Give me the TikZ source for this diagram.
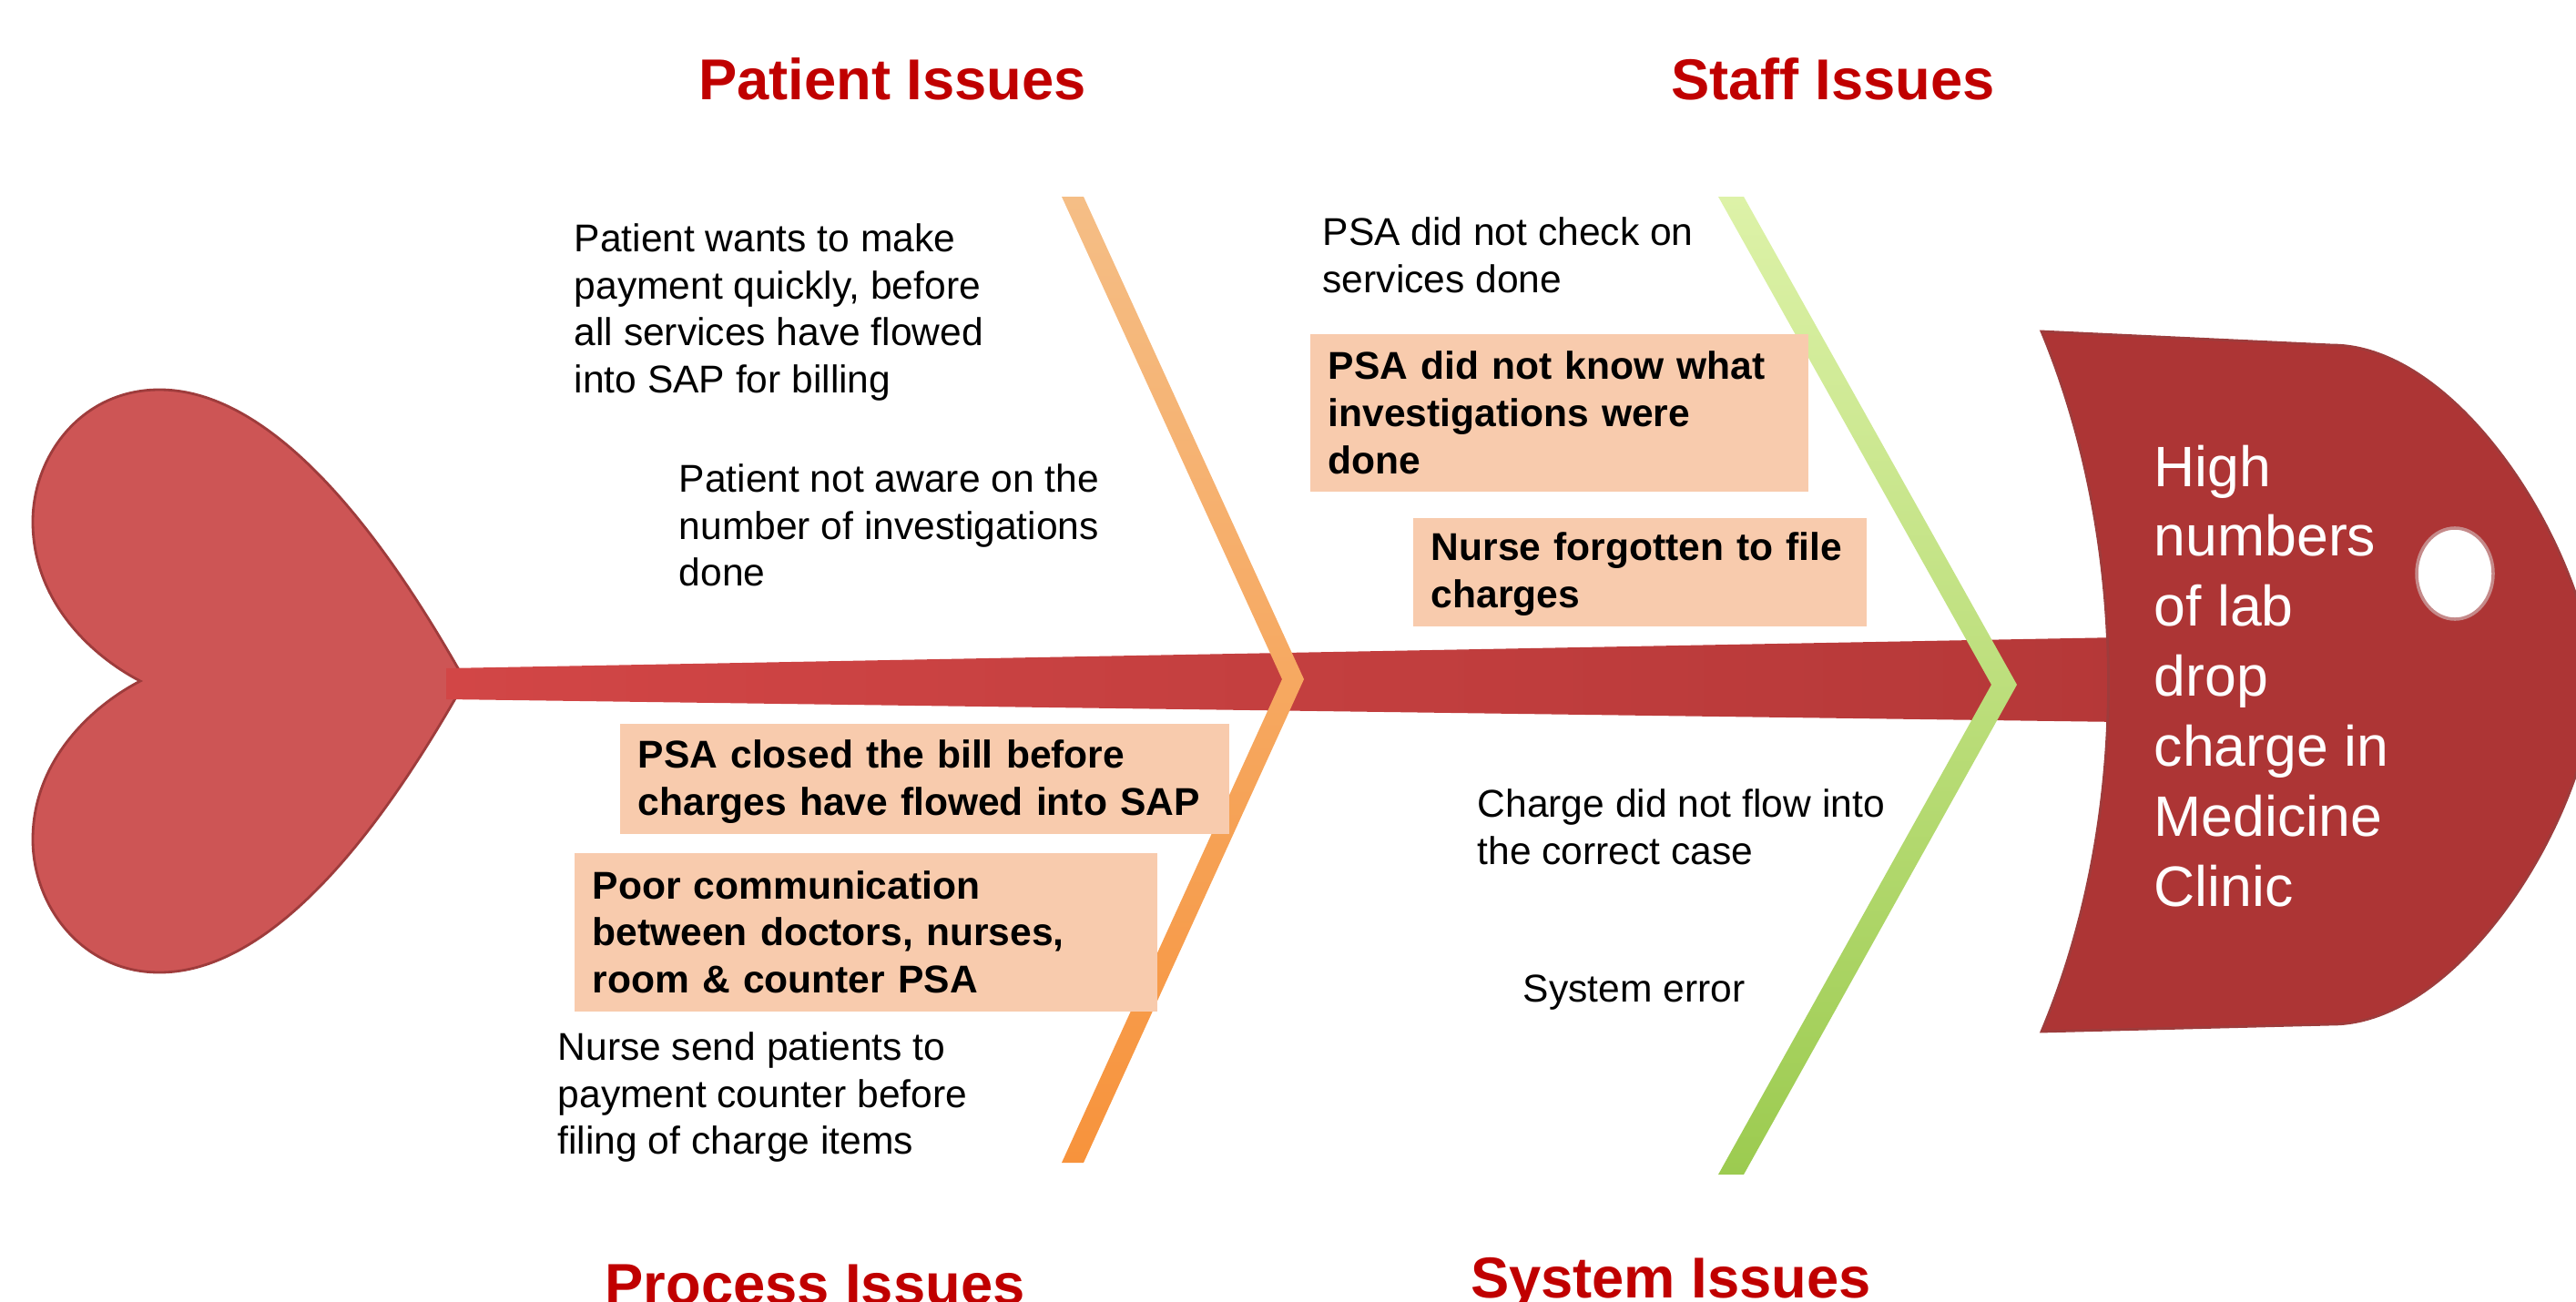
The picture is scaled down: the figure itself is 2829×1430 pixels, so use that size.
\documentclass[tikz,border=0pt]{standalone}
\usepackage{fontspec}
\setmainfont{Liberation Sans}
\definecolor{titlered}{HTML}{C00000}
\definecolor{peach}{HTML}{F8CBAD}
\definecolor{heartred}{HTML}{CD5555}
\definecolor{heartedge}{HTML}{9E3C3C}
\definecolor{spineleft}{HTML}{D24646}
\definecolor{spineright}{HTML}{B53838}
\definecolor{headred}{HTML}{AD3535}
\definecolor{orangetop}{HTML}{F5BE86}
\definecolor{orangebot}{HTML}{F7933C}
\definecolor{greentop}{HTML}{DDF2A8}
\definecolor{greenbot}{HTML}{9CCB50}

\tikzstyle{cause} = [anchor=north west, inner sep=0pt, align=left, font=\fontsize{12.1}{14.7}\selectfont]
\tikzstyle{causebox} = [anchor=north west, fill=peach, inner xsep=0.2cm, inner ysep=0pt, align=left, font=\bfseries\fontsize{12.1}{14.7}\selectfont]
\tikzstyle{category} = [anchor=base, inner sep=0pt, text=titlered, font=\bfseries\fontsize{18}{22}\selectfont]

\begin{document}
\begin{tikzpicture}[x=0.01cm, y=-0.01cm]
      \clip (0,0) rectangle (2829,1430);
      \useasboundingbox (0,0) rectangle (2829,1430);

      \fill[heartred, draw=heartedge, line width=0.8pt] (511,748) .. controls (450,640) and (320,428) .. (175,428)
        .. controls (90,428) and (36,500) .. (36,573) .. controls (36,660) and (100,720) .. (154,748)
        .. controls (100,776) and (36,836) .. (36,922) .. controls (36,995) and (90,1068) .. (175,1068)
        .. controls (320,1068) and (450,856) .. (511,748) -- cycle;
      \shade[left color=spineleft, right color=spineright] (490,734) -- (2330,700) -- (2330,793) -- (490,768) -- cycle;

      \shade[top color=orangetop, bottom color=orangebot] (1166,216) -- (1190,216) -- (1432,746) -- (1190,1277) -- (1166,1277) -- (1408,746) -- cycle;
      \shade[top color=greentop, bottom color=greenbot] (1887,216) -- (1915,216) -- (2215,752) -- (1915,1290) -- (1887,1290) -- (2187,752) -- cycle;

      \fill[headred, draw=heartedge, line width=0.8pt] (2242,364) -- (2561,379) .. controls (2700,379) and (2840,600) .. (2850,752)
        .. controls (2840,904) and (2700,1125) .. (2561,1125) -- (2242,1133)
        .. controls (2340,900) and (2340,600) .. (2242,364) -- cycle;
      \fill[white, draw=heartedge!60, line width=1pt] (2696,630) ellipse [x radius=0.42cm, y radius=0.5cm];

      \node[category] (patient) at (980,110) {Patient Issues};
      \node[category] (staff) at (2013,110) {Staff Issues};
      \node[category] (process) at (895,1432) {Process Issues};
      \node[category] (system) at (1835,1425) {System Issues};

      \node[cause] (wantspay) at (630,245) {Patient wants to make\\payment quickly, before\\all services have flowed\\into SAP for billing};
      \node[cause] (notaware) at (745,509) {Patient not aware on the\\number of investigations\\done};
      \node[causebox, text width=6.29cm, minimum height=1.21cm] (closedbill) at (680,794) {\rule{0pt}{0.38cm}PSA closed the bill before\\charges have flowed into SAP};
      \node[causebox, text width=6.0cm, minimum height=1.74cm] (poorcomm) at (630,936) {Poor communication\\between doctors, nurses,\\room \& counter PSA};
      \node[cause] (nursesend) at (612,1133) {Nurse send patients to\\payment counter before\\filing of charge items};

      \node[cause] (nocheck) at (1452,238) {PSA did not check on\\services done};
      \node[causebox, text width=5.07cm, minimum height=1.73cm] (notknow) at (1438,366) {PSA did not know what\\investigations were\\done};
      \node[causebox, text width=4.58cm, minimum height=1.19cm] (forgotfile) at (1551,568) {\rule{0pt}{0.36cm}Nurse forgotten to file\\charges};
      \node[cause] (noflow) at (1622,866) {Charge did not flow into\\the correct case};
      \node[cause] (syserror) at (1672,1070) {System error};

      \node[anchor=north west, inner sep=0pt, align=left, text=white, font=\fontsize{17.8}{21.85}\selectfont] (problem) at (2365,488) {High\\numbers\\of lab\\drop\\charge in\\Medicine\\Clinic};
    \end{tikzpicture}
\end{document}
